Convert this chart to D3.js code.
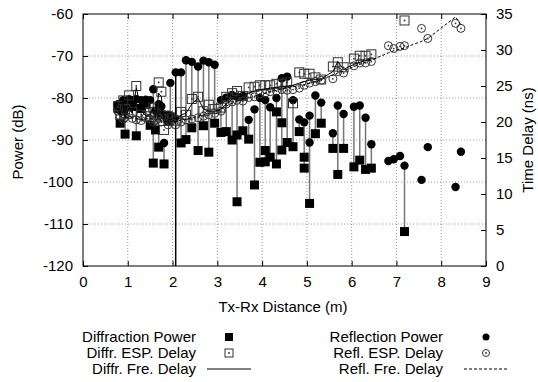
<!DOCTYPE html>
<html>
<head>
<meta charset="utf-8">
<script src="https://cdn.jsdelivr.net/npm/d3@7"></script>
<style>
  body { margin: 0; background: #fff; }
  svg text { font-family: "Liberation Sans", Arial, sans-serif; font-size: 15px; fill: #000; }
</style>
</head>
<body>
<svg id="chart" width="538" height="382"></svg>
<script>
// measurements, one entry per position (null = not measured)
const distance    = [0.78, 0.83, 0.90, 0.94, 1.03, 1.10, 1.19, 1.30, 1.40, 1.50, 1.57, 1.62, 1.69, 1.75, 1.81, 1.90, 1.95, 2.05, 2.07, 2.19, 2.30, 2.43, 2.57, 2.69, 2.81, 2.94, 3.08, 3.20, 3.33, 3.44, 3.44, 3.57, 3.70, 3.83, 3.95, 4.07, 4.07, 4.18, 4.32, 4.32, 4.44, 4.44, 4.56, 4.69, 4.83, 4.94, 4.94, 5.06, 5.06, 5.19, 5.32, 5.58, 5.69, 5.82, 6.05, 6.18, 6.31, 6.44, 6.82, 6.94, 7.08, 7.18, 7.56, 7.70, 8.32, 8.44];
const diffPower   = [-82.5, -86.0, -83.0, -88.6, -81.5, -82.0, -89.0, -82.5, -81.5, -86.5, -95.5, -87.6, -91.7, -84.0, -95.7, -85.5, -84.5, null, -125, -90.7, -89.9, -87.1, -92.5, -86.6, -92.9, -86.0, -88.2, -88.0, -90.0, -104.7, -88.8, -87.8, -89.8, -100.7, -95.3, -95.2, -92.5, -94.1, -95.7, -83.3, -92.4, -85.9, -90.6, -91.6, -88.0, -96.7, -94.1, -105.1, null, -88.5, -86.0, -92.0, -98.2, -92.0, -96.4, -94.8, -97.0, -96.7, null, null, null, -111.8, null, null, null, null];
const reflPower   = [-81.5, -82.5, -80.5, -80.8, -80.3, -80.5, -80.3, -80.5, -80.4, -80.5, -77.9, -83.0, -81.5, -82.0, -90.7, -84.0, -76.4, -84.8, -73.9, -73.9, -71.0, -71.4, -72.5, -71.1, -71.5, -72.1, -80.5, -79.9, -79.3, -79.7, null, -79.5, -85.2, -82.7, -80.0, -80.5, null, -82.2, -80.0, null, -75.3, null, -74.9, -80.5, -85.1, -85.8, null, -84.2, -90.6, -79.4, -81.1, -88.4, -81.8, -83.8, -82.1, -81.8, -84.7, -91.0, -95.0, -94.6, -93.8, -96.1, -99.5, -91.7, -101.2, -92.8];
const diffEspDelay = [22.2, 21.0, 23.0, 21.8, 23.7, 21.4, 25.0, 21.0, 20.8, 21.4, 22.0, 21.2, 25.5, 24.2, 18.9, 20.8, 20.5, null, 20.2, 21.4, 21.0, 23.2, 23.5, 21.5, 22.4, 21.8, 22.0, 23.5, 24.0, 24.3, null, 23.6, 24.8, 24.9, 25.1, 25.1, null, 25.1, 25.3, null, 25.3, null, 25.5, 22.6, 26.9, 26.7, null, 26.7, null, 26.2, 25.9, 27.7, 28.3, 27.6, 28.8, 29.2, 29.2, 29.4, null, null, null, 34.1, null, null, null, null];
const reflEspDelay = [21.5, 20.8, 20.4, 20.6, 21.0, 20.5, 20.3, 20.2, 20.6, 20.4, 20.0, 20.2, 20.5, 20.0, 20.5, 19.6, 20.0, null, 19.6, 20.0, 20.3, 20.4, 20.6, 20.8, 21.0, 21.2, 21.5, 22.5, 22.8, 23.0, null, 22.9, 23.4, 23.5, 23.9, 24.0, null, 24.2, 24.3, null, 24.5, null, 24.4, 24.5, 24.7, 25.1, null, 25.4, null, 25.6, 25.8, 26.0, 27.0, 26.8, 27.8, 28.2, 28.2, 28.4, 30.6, 30.2, 30.5, 30.6, 33.0, 31.6, 33.7, 33.0];
const diffFreDelay = [22.0, 21.0, 23.2, 20.5, 22.0, 21.2, 24.8, 21.5, 20.9, 21.0, 22.0, 20.6, 24.0, 23.5, 20.0, 20.2, 20.5, null, 20.0, 21.0, 21.2, 22.5, 23.3, 21.8, 21.5, 21.5, 21.8, 22.5, 23.2, 23.5, null, 23.8, 24.0, 24.3, 24.5, 24.6, null, 24.7, 24.8, null, 24.9, null, 25.0, 25.1, 25.4, 25.6, null, 25.8, null, 25.9, 26.0, 27.0, 28.4, 27.3, 28.0, 28.3, 28.5, 28.8, null, null, null, null, null, null, null, null];
const reflFreDelay = [21.3, 20.8, 20.6, 20.5, 20.7, 20.6, 20.5, 20.4, 20.4, 20.5, 20.3, 20.3, 20.4, 20.2, 20.0, 20.0, 20.1, null, 20.0, 20.3, 20.4, 20.6, 20.8, 21.0, 21.2, 21.4, 21.7, 22.2, 22.6, 22.9, null, 23.1, 23.3, 23.6, 23.8, 24.0, null, 24.2, 24.4, null, 24.6, null, 24.8, 24.9, 25.0, 25.2, null, 25.4, null, 25.6, 25.9, 26.5, 26.8, 27.1, 27.7, 28.0, 28.3, 28.6, 29.6, 29.9, 30.1, 30.3, 31.2, 31.6, 34.6, 33.5];

const xTicks = [0, 1, 2, 3, 4, 5, 6, 7, 8, 9];
const powerTicks = [-60, -70, -80, -90, -100, -110, -120];
const delayTicks = [0, 5, 10, 15, 20, 25, 30, 35];

const legendLeft = ["Diffraction Power", "Diffr. ESP. Delay", "Diffr. Fre. Delay"];
const legendRight = ["Reflection Power", "Refl. ESP. Delay", "Refl. Fre. Delay"];

const margin = { left: 83, right: 52, top: 14, bottom: 116 };
const width = 538, height = 382;
const innerW = width - margin.left - margin.right;
const innerH = height - margin.top - margin.bottom;

const svg = d3.select("#chart");
const g = svg.append("g").attr("transform", `translate(${margin.left},${margin.top})`);

const x = d3.scaleLinear().domain([0, 9]).range([0, innerW]);
const yPow = d3.scaleLinear().domain([-120, -60]).range([innerH, 0]);
const yDel = d3.scaleLinear().domain([0, 35]).range([innerH, 0]);

const rows = distance.map((d, i) => ({
  d: d, dp: diffPower[i], rp: reflPower[i],
  de: diffEspDelay[i], re: reflEspDelay[i],
  df: diffFreDelay[i], rf: reflFreDelay[i]
}));

g.append("clipPath").attr("id", "clip")
  .append("rect").attr("width", innerW).attr("height", innerH);

// grid
const grid = g.append("g").attr("stroke", "#999").attr("stroke-dasharray", "1,2").attr("stroke-width", 1);
grid.selectAll("line.gx").data(xTicks.slice(1, -1)).enter().append("line")
  .attr("x1", d => x(d)).attr("x2", d => x(d)).attr("y1", 0).attr("y2", innerH);
grid.selectAll("line.gy").data(powerTicks.slice(1, -1)).enter().append("line")
  .attr("x1", 0).attr("x2", innerW).attr("y1", d => yPow(d)).attr("y2", d => yPow(d));

// axes, gnuplot style ticks pointing inward
const axisStyle = sel => {
  sel.select(".domain").remove();
  sel.selectAll("line").attr("stroke", "#000");
};
g.append("g").attr("transform", `translate(0,${innerH})`)
  .call(d3.axisBottom(x).tickValues(xTicks).tickSize(-5).tickPadding(10).tickFormat(d3.format("d")))
  .call(axisStyle);
g.append("g")
  .call(d3.axisTop(x).tickValues(xTicks).tickSize(-5).tickFormat(""))
  .call(axisStyle);
g.append("g")
  .call(d3.axisLeft(yPow).tickValues(powerTicks).tickSize(-5).tickPadding(10).tickFormat(d => d))
  .call(axisStyle);
g.append("g").attr("transform", `translate(${innerW},0)`)
  .call(d3.axisRight(yDel).tickValues(delayTicks).tickSize(-5).tickPadding(10).tickFormat(d3.format("d")))
  .call(axisStyle);
g.selectAll(".tick text").attr("font-size", null).attr("font-family", null).style("font-size", "15px");

const plot = g.append("g").attr("clip-path", "url(#clip)");

// connectors between diffraction and reflection power at the same distance
plot.selectAll("line.conn")
  .data(rows.filter(r => r.dp !== null && r.rp !== null))
  .enter().append("line")
  .attr("x1", r => x(r.d)).attr("x2", r => x(r.d))
  .attr("y1", r => yPow(r.rp)).attr("y2", r => yPow(r.dp))
  .attr("stroke", r => r.dp < -120 ? "#000" : "#777")
  .attr("stroke-width", 1.5);

const sq = 9;
plot.selectAll("rect.dp")
  .data(rows.filter(r => r.dp !== null))
  .enter().append("rect")
  .attr("x", r => x(r.d) - sq / 2).attr("y", r => yPow(r.dp) - sq / 2)
  .attr("width", sq).attr("height", sq).attr("fill", "#000");

plot.selectAll("circle.rp")
  .data(rows.filter(r => r.rp !== null))
  .enter().append("circle")
  .attr("cx", r => x(r.d)).attr("cy", r => yPow(r.rp)).attr("r", 4.2).attr("fill", "#000");

// ESP delays (hollow markers with a centre dot)
const de = plot.selectAll("g.de")
  .data(rows.filter(r => r.de !== null))
  .enter().append("g")
  .attr("transform", r => `translate(${x(r.d)},${yDel(r.de)})`);
de.append("rect").attr("x", -4.5).attr("y", -4.5).attr("width", 9).attr("height", 9)
  .attr("fill", "none").attr("stroke", "#333").attr("stroke-width", 1);
de.append("circle").attr("r", 0.9).attr("fill", "#333");

const re = plot.selectAll("g.re")
  .data(rows.filter(r => r.re !== null))
  .enter().append("g")
  .attr("transform", r => `translate(${x(r.d)},${yDel(r.re)})`);
re.append("circle").attr("r", 4).attr("fill", "none").attr("stroke", "#333").attr("stroke-width", 1);
re.append("circle").attr("r", 0.9).attr("fill", "#333");

// frequency domain delays
const diffLine = d3.line().x(r => x(r.d)).y(r => yDel(r.df));
const reflLine = d3.line().x(r => x(r.d)).y(r => yDel(r.rf));
plot.append("path").datum(rows.filter(r => r.df !== null))
  .attr("d", diffLine).attr("fill", "none").attr("stroke", "#000").attr("stroke-width", 1);
plot.append("path").datum(rows.filter(r => r.rf !== null))
  .attr("d", reflLine).attr("fill", "none").attr("stroke", "#000").attr("stroke-width", 1)
  .attr("stroke-dasharray", "3,2");

g.append("rect").attr("width", innerW).attr("height", innerH)
  .attr("fill", "none").attr("stroke", "#000").attr("stroke-width", 1);

// axis titles
svg.append("text").attr("transform", "translate(23,142) rotate(-90)")
  .attr("text-anchor", "middle").text("Power (dB)");
svg.append("text").attr("transform", "translate(533,140) rotate(-90)")
  .attr("text-anchor", "middle").text("Time Delay (ns)");
svg.append("text").attr("x", 283).attr("y", 312)
  .attr("text-anchor", "middle").text("Tx-Rx Distance (m)");

// legend
const rowY = [337, 353, 369];
const leg = svg.append("g");
leg.selectAll("text.l").data(legendLeft).enter().append("text")
  .attr("x", 196).attr("y", (d, i) => rowY[i] + 5).attr("text-anchor", "end").text(d => d);
leg.selectAll("text.r").data(legendRight).enter().append("text")
  .attr("x", 443).attr("y", (d, i) => rowY[i] + 5).attr("text-anchor", "end").text(d => d);

leg.append("rect").attr("x", 229 - 4).attr("y", rowY[0] - 4).attr("width", 8).attr("height", 8).attr("fill", "#000");
leg.append("rect").attr("x", 229 - 4).attr("y", rowY[1] - 4).attr("width", 8).attr("height", 8)
  .attr("fill", "none").attr("stroke", "#333");
leg.append("circle").attr("cx", 229).attr("cy", rowY[1]).attr("r", 0.9).attr("fill", "#333");
leg.append("line").attr("x1", 207).attr("x2", 251).attr("y1", rowY[2]).attr("y2", rowY[2]).attr("stroke", "#000");

leg.append("circle").attr("cx", 486).attr("cy", rowY[0]).attr("r", 3.5).attr("fill", "#000");
leg.append("circle").attr("cx", 486).attr("cy", rowY[1]).attr("r", 3.5).attr("fill", "none").attr("stroke", "#333");
leg.append("circle").attr("cx", 486).attr("cy", rowY[1]).attr("r", 0.9).attr("fill", "#333");
leg.append("line").attr("x1", 464).attr("x2", 508).attr("y1", rowY[2]).attr("y2", rowY[2])
  .attr("stroke", "#000").attr("stroke-dasharray", "3,2");
</script>
</body>
</html>
